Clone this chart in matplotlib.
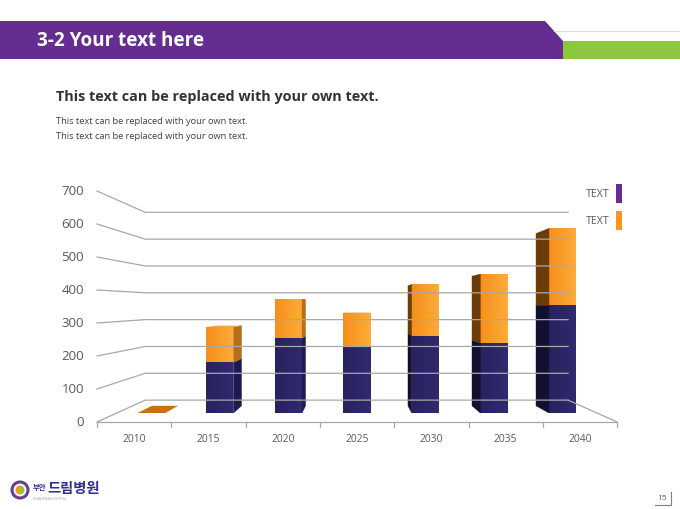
import numpy as np
import matplotlib
matplotlib.use('Agg')
import matplotlib.pyplot as plt
from matplotlib.colors import LinearSegmentedColormap
from matplotlib.patches import Polygon, Rectangle, Circle, Wedge

plt.rcParams['font.family'] = ['Open Sans', 'Noto Sans CJK KR', 'DejaVu Sans']

# chart data
years = ['2010', '2015', '2020', '2025', '2030', '2035', '2040']
series_names = ['TEXT', 'TEXT']
blue_vals = [0, 166, 245, 218, 254, 230, 354]
orange_vals = [0, 116, 129, 110, 168, 226, 252]
y_ticks = [0, 100, 200, 300, 400, 500, 600, 700]

# page texts
title = '3-2 Your text here'
subtitle = 'This text can be replaced with your own text.'
body_lines = ['This text can be replaced with your own text.',
              'This text can be replaced with your own text.']
page_no = '15'

# colours
PURPLE = '#652d90'
GREEN = '#8dc63f'
GRID = '#a8a8a8'
LABEL = '#595959'
NAVY_CMAP = LinearSegmentedColormap.from_list('navy', ['#28225e', '#312a70'])
ORANGE_CMAP = LinearSegmentedColormap.from_list('orng', ['#f68f19', '#fdac3c'])

# fake-3d layout (pixel space of the slide)
X0, SLOT, Y0, PXU = 97.0, 74.3, 423.0, 0.33
VPX, VPY, SHRINK = 355.0, 306.0, 0.187
BAR_HALF, D_FRONT, D_BACK = 0.2, 0.41, 0.74


def proj(c, v, d):
    """project (category pos, value, depth) onto the slide"""
    x = X0 + SLOT * c
    y = Y0 - PXU * v
    k = 1 - SHRINK * d
    return (VPX + (x - VPX) * k, VPY + (y - VPY) * k)


def draw_box(ax, c, v0, v1, cmap, side_r, side_l, top=None):
    cl, cr = c - BAR_HALF, c + BAR_HALF
    xl = proj(cl, v0, D_FRONT)[0]
    xr = proj(cr, v0, D_FRONT)[0]
    if xr < VPX:
        pts = [proj(cr, v0, D_FRONT), proj(cr, v0, D_BACK),
               proj(cr, v1, D_BACK), proj(cr, v1, D_FRONT)]
        ax.add_patch(Polygon(pts, closed=True, fc=side_r, ec=side_r, lw=0.3))
    elif xl > VPX:
        pts = [proj(cl, v0, D_FRONT), proj(cl, v0, D_BACK),
               proj(cl, v1, D_BACK), proj(cl, v1, D_FRONT)]
        ax.add_patch(Polygon(pts, closed=True, fc=side_l, ec=side_l, lw=0.3))
    if top is not None and proj(c, v1, D_FRONT)[1] > VPY:
        pts = [proj(cl, v1, D_FRONT), proj(cr, v1, D_FRONT),
               proj(cr, v1, D_BACK), proj(cl, v1, D_BACK)]
        ax.add_patch(Polygon(pts, closed=True, fc=top, ec='none'))
    if v1 > v0:
        p0 = proj(cl, v0, D_FRONT)
        p1 = proj(cr, v1, D_FRONT)
        face = Polygon([p0, (p1[0], p0[1]), p1, (p0[0], p1[1])], closed=True,
                       fc='none', ec='none')
        ax.add_patch(face)
        im = ax.imshow(np.linspace(0, 1, 64).reshape(1, -1), cmap=cmap,
                       extent=(p0[0], p1[0], p0[1], p1[1]), aspect='auto',
                       interpolation='bilinear')
        im.set_clip_path(face)


fig = plt.figure(figsize=(6.8, 5.1), dpi=100)
ax = fig.add_axes([0, 0, 1, 1])
ax.axis('off')

# header band
ax.add_patch(Polygon([(0, 22), (545, 22), (563, 42), (563, 60), (0, 60)],
                     closed=True, fc=PURPLE, ec='none'))
ax.add_patch(Rectangle((563, 42), 117, 18, fc=GREEN, ec='none'))
ax.plot([554, 680], [32, 32], color='#d9d9d9', lw=0.8)
ax.text(37, 41, title, color='white', fontsize=13.6, fontweight='bold',
        va='center', ha='left')

ax.text(56, 97, subtitle, color='#333333', fontsize=10.4, fontweight='bold',
        va='center', ha='left')
for i, line in enumerate(body_lines):
    ax.text(56, 122 + 15 * i, line, color='#404040', fontsize=6.7,
            va='center', ha='left')

# walls: left wall slants and back wall lines
n = len(years)
for v in y_ticks:
    f = proj(0, v, 0)
    b = proj(0, v, 1)
    e = proj(n, v, 1)
    ax.plot([f[0], b[0], e[0]], [f[1], b[1], e[1]], color=GRID, lw=0.9,
            solid_joinstyle='miter')
    ax.text(f[0] - 13, f[1], str(v), color=LABEL, fontsize=9.5,
            ha='right', va='center')

# floor edges + category ticks
fl, fr = proj(0, 0, 0), proj(n, 0, 0)
ax.plot([fl[0], fr[0]], [fl[1], fr[1]], color=GRID, lw=0.9)
br = proj(n, 0, 1)
ax.plot([br[0], fr[0]], [br[1], fr[1]], color=GRID, lw=0.9)
for i in range(n + 1):
    p = proj(i, 0, 0)
    ax.plot([p[0], p[0]], [p[1], p[1] + 5], color=GRID, lw=0.9)
for i, yr in enumerate(years):
    p = proj(i + 0.5, 0, 0)
    ax.text(p[0], p[1] + 17, yr, color=LABEL, fontsize=7.4,
            ha='center', va='center')

# bars
for i in range(n):
    c = i + 0.5
    b = blue_vals[i]
    t = b + orange_vals[i]
    if t == 0:
        draw_box(ax, c, 0, 0, ORANGE_CMAP, '#b86e14', '#6b3c08', top='#c8720f')
        continue
    draw_box(ax, c, 0, b, NAVY_CMAP, '#1e1b50', '#121030')
    draw_box(ax, c, b, t, ORANGE_CMAP, '#b86e14', '#6b3c08', top='#f2a540')

# legend
leg_cols = [PURPLE, '#f8961f']
for i, (name, col) in enumerate(zip(series_names, leg_cols)):
    y = 194.5 + 27 * i
    ax.add_patch(Rectangle((616, y - 9.5), 6, 19, fc=col, ec='none'))
    ax.text(610, y, name, color=LABEL, fontsize=7.6, ha='right', va='center')

# footer logo
ax.add_patch(Circle((20, 491), 8, fc='white', ec='#6a3d8f', lw=2.2))
ax.add_patch(Wedge((20, 491), 4.5, 90, 270, fc='#f29b1f', ec='none'))
ax.add_patch(Wedge((20, 491), 4.5, 270, 90, fc='#8dc63f', ec='none'))
ax.text(32.5, 489, '부안', color='#2e3192', fontsize=5.3, fontweight='bold',
        ha='left', va='center')
ax.text(47.5, 489, '드림병원', color='#2e3192', fontsize=10.3, fontweight='bold',
        ha='left', va='center')
ax.text(33, 499, 'BUAN DREAM HOSPITAL', color='#a0a0a0', fontsize=2.2,
        ha='left', va='center')

# page number
ax.text(662, 499, page_no, color='#595959', fontsize=6, ha='center', va='center')
ax.plot([655, 671, 671], [506, 506, 493], color='#7f7f7f', lw=0.8)

ax.set_xlim(0, 680)
ax.set_ylim(510, 0)
fig.savefig('out.png', dpi=100)
